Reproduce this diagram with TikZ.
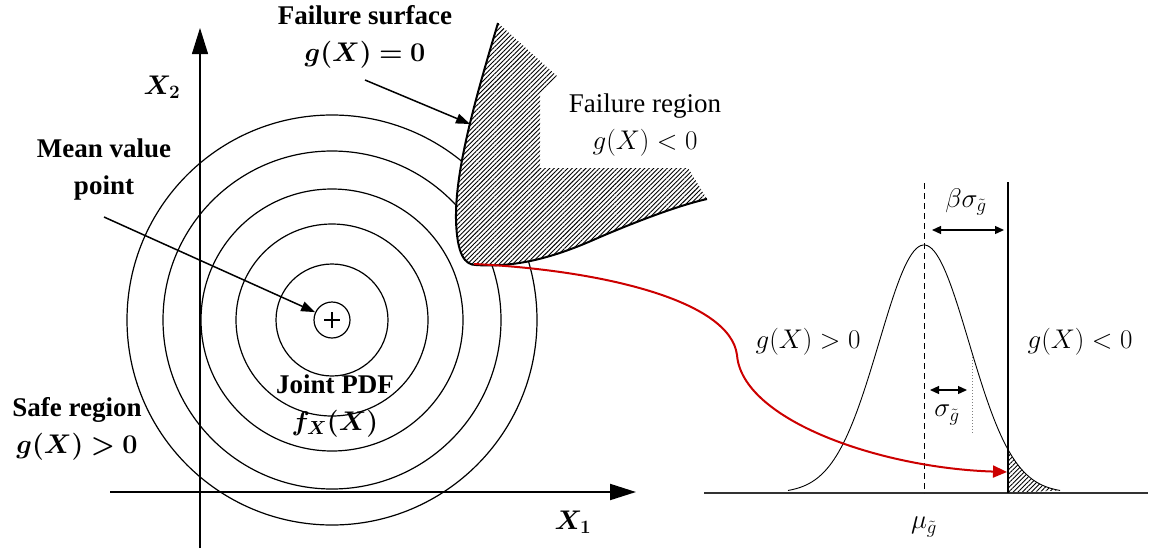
\RequirePackage{fix-cm}
\documentclass[tikz,border=0pt]{standalone}
\usepackage{bm}
\usepackage{fontspec}
\setmainfont{Liberation Serif}
\usetikzlibrary{arrows.meta,patterns.meta}

\newcommand{\failcurve}{(498,23) .. controls (475,100) and (455,170) .. (456,220)
  .. controls (457,255) and (465,265) .. (476,265)
  .. controls (520,268) and (560,255) .. (600,237)
  .. controls (640,220) and (680,205) .. (707,199)}

\begin{document}
\begin{tikzpicture}[x=1pt, y=-1pt]
    \tikzset{
      lbl/.style={font=\bfseries\fontsize{27}{37}\selectfont, align=center, inner sep=0pt},
      txt/.style={font=\fontsize{27}{37}\selectfont, align=center, inner sep=0pt},
      contour/.style={line width=1.2pt},
      hatched/.style={pattern={Lines[angle=45,distance=3.2pt,line width=0.9pt]}},
      bigtip/.style={-{Triangle[length=26pt,width=16pt]}},
      smalltip/.style={-{Triangle[length=14pt,width=10pt]}, line width=1.5pt},
      dimtip/.style={{Triangle[length=9pt,width=8pt]}-{Triangle[length=9pt,width=8pt]}, line width=1.3pt},
    }
    \useasboundingbox (0,0) rectangle (1150,555);
    % ===== Left panel: X-space =====
    \coordinate (x2foot) at (200,548);
    \coordinate (x2head) at (200,28);
    \coordinate (x1foot) at (110,492);
    \coordinate (x1head) at (636,492);
    \node[circle, draw, line width=1.2pt, minimum size=36pt, inner sep=0pt] (mean) at (332,320) {};
    \draw[line width=1.3pt] ([xshift=-8pt]mean.center) -- ([xshift=8pt]mean.center);
    \draw[line width=1.3pt] ([yshift=-8pt]mean.center) -- ([yshift=8pt]mean.center);
    \foreach \r in {56,96,131,169,205}{
      \draw[contour] (mean.center) circle[radius=\r];
    }
    \draw[line width=1.1pt, bigtip] (x2foot) -- (x2head);
    \draw[line width=2pt, bigtip] (x1foot) -- (x1head);
    \node[font=\fontsize{27}{37}\selectfont, inner sep=0pt] (x2lbl) at (162,87) {$\bm{X_2}$};
    \node[font=\fontsize{27}{37}\selectfont, inner sep=0pt] (x1lbl) at (573,522) {$\bm{X_1}$};
    % failure region
    \path[preaction={fill=white}, hatched] \failcurve -- (688,168) -- (540,168) -- (540,93) -- (558,77) -- cycle;
    \draw[line width=2pt] \failcurve;
    \coordinate (fcorner) at (474,264);
    \coordinate (fsurf) at (470,124);
    % labels
    \node[lbl] (fslbl) at (365,37) {Failure surface\\$\bm{g(X)=0}$};
    \node[txt] (frlbl) at (645,125) {Failure region\\$g(X)<0$};
    \node[lbl] (meanlbl) at (104,170) {Mean value\\point};
    \node[lbl] (pdflbl) at (335,406) {Joint PDF\\$\bm{f_X(X)}$};
    \node[lbl] (safelbl) at (77,429) {Safe region\\$\bm{g(X)>0}$};
    \coordinate (fsfoot) at (365,80);
    \coordinate (meanfoot) at (104,217);
    \draw[smalltip] (fsfoot) -- (fsurf);
    \draw[smalltip] (meanfoot) -- (mean.155);
    % ===== Right panel: limit state function =====
    \coordinate (baseL) at (704,493);
    \coordinate (baseR) at (1148,493);
    \coordinate (mutop) at (924,183);
    \coordinate (mubot) at (924,493);
    \coordinate (limtop) at (1008,182);
    \coordinate (limbot) at (1008,493);
    \path[hatched] (limbot) -- plot[domain=1008:1060, samples=30] (\x,{493-248*exp(-0.5*((\x-924)/45)^2)}) -- cycle;
    \draw[line width=1.5pt, black!80] (baseL) -- (baseR);
    \draw[line width=0.9pt] plot[domain=788:1060, samples=120] (\x,{493-248*exp(-0.5*((\x-924)/45)^2)});
    \draw[line width=1pt, dash pattern=on 6pt off 4pt] (mutop) -- (mubot);
    \draw[line width=2.5pt] (limtop) -- (limbot);
    \coordinate (bsL) at (932,230);
    \coordinate (bsR) at (1004,230);
    \coordinate (sL) at (930,390);
    \coordinate (sR) at (967,390);
    \draw[dimtip] (bsL) -- (bsR);
    \draw[dimtip] (sL) -- (sR);
    \draw[black!50, line width=1pt, dotted] (972,357) -- (972,433);
    \node[txt] (bslbl) at (966,202) {$\beta\sigma_{\tilde{g}}$};
    \node[txt] (slbl) at (947,415) {$\sigma_{\tilde{g}}$};
    \node[txt] (mulbl) at (924,527) {$\mu_{\tilde{g}}$};
    \node[txt] (poslbl) at (808,342) {$g(X)>0$};
    \node[txt] (neglbl) at (1080,342) {$g(X)<0$};
    % ===== Mapping arrow =====
    \coordinate (tailtip) at (1007,472);
    \draw[red!80!black, line width=2pt, -{Triangle[length=14pt,width=12pt]}]
      (fcorner) .. controls (600,270) and (730,300) .. (737,355)
      .. controls (742,420) and (880,468) .. (tailtip);
\end{tikzpicture}
\end{document}
